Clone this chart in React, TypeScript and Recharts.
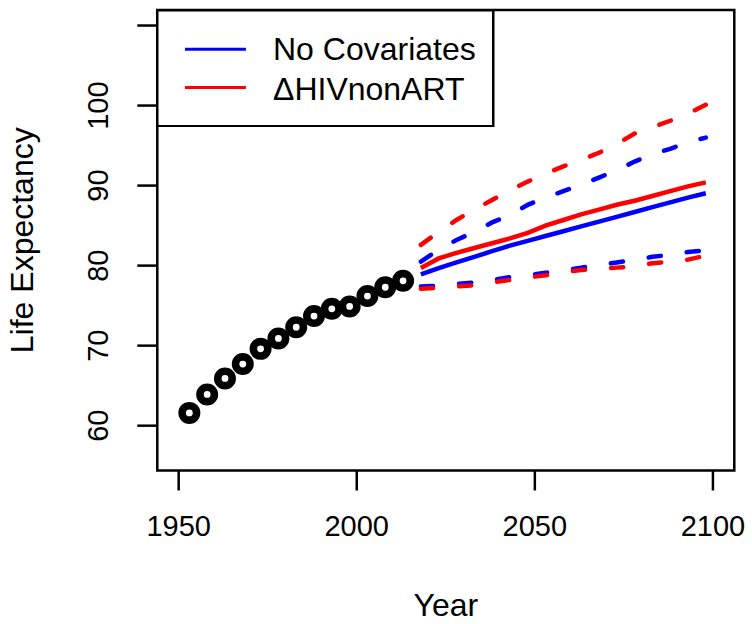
import { ComposedChart, Line, Scatter, XAxis, YAxis, ReferenceArea, Legend } from 'recharts';

// observed life expectancy (5-year periods)
const histYears = [1953, 1958, 1963, 1968, 1973, 1978, 1983, 1988, 1993, 1998, 2003, 2008, 2013];
const histLE = [61.6, 63.9, 65.9, 67.7, 69.6, 70.9, 72.3, 73.7, 74.6, 74.9, 76.2, 77.3, 78.1];

// projections
const projYears = [2018, 2023, 2028, 2033, 2038, 2043, 2048, 2053, 2058, 2063, 2068, 2073, 2078, 2083, 2088, 2093, 2098];
const noCovMedian = [78.9, 79.7, 80.4, 81.1, 81.8, 82.5, 83.1, 83.7, 84.3, 84.9, 85.5, 86.1, 86.7, 87.3, 87.9, 88.5, 89.05];
const noCovUpper = [80.5, 82.0, 83.2, 84.2, 85.4, 86.3, 87.6, 88.5, 89.3, 90.1, 91.0, 91.9, 93.0, 93.9, 94.6, 95.4, 96.0];
const noCovLower = [77.4, 77.5, 77.7, 77.9, 78.2, 78.55, 78.8, 79.1, 79.4, 79.75, 80.05, 80.4, 80.7, 81.1, 81.35, 81.7, 81.9];
const hivMedian = [79.7, 80.9, 81.6, 82.2, 82.8, 83.4, 84.1, 85.0, 85.7, 86.4, 87.0, 87.6, 88.1, 88.7, 89.3, 89.9, 90.4];
const hivUpper = [82.6, 84.2, 85.7, 87.0, 88.2, 89.4, 90.5, 91.5, 92.4, 93.2, 94.1, 95.2, 96.5, 97.3, 98.1, 99.0, 100.1];
const hivLower = [77.1, 77.25, 77.4, 77.55, 77.9, 78.2, 78.5, 78.8, 79.2, 79.45, 79.6, 79.75, 79.9, 80.3, 80.5, 80.75, 81.25];

const xTicks = [1950, 2000, 2050, 2100];
const yTicks = [60, 70, 80, 90, 100, 110];
const yLabelled = [60, 70, 80, 90, 100];

const hist = histYears.map((year, i) => ({ year, le: histLE[i] }));
const proj = projYears.map((year, i) => ({
  year,
  noCovMedian: noCovMedian[i],
  noCovUpper: noCovUpper[i],
  noCovLower: noCovLower[i],
  hivMedian: hivMedian[i],
  hivUpper: hivUpper[i],
  hivLower: hivLower[i],
}));

const FONT = '"Liberation Sans", Arial, Helvetica, sans-serif';
const LW = 4.5;
const DASH = '12.2 26.1';

const XTick = (props: any) => (
  <text x={props.x} y={props.y} dy={45.5} textAnchor="middle" fontSize={29} fill="#000" fontFamily={FONT}>
    {props.payload.value}
  </text>
);

const YTick = (props: any) => {
  if (!yLabelled.includes(props.payload.value)) return <g />;
  const bx = props.x - 28.9;
  return (
    <text x={bx} y={props.y} transform={`rotate(-90, ${bx}, ${props.y})`} textAnchor="middle" fontSize={29} fill="#000" fontFamily={FONT}>
      {props.payload.value}
    </text>
  );
};

const Ring = (props: any) => (
  <circle cx={props.cx} cy={props.cy} r={7.2} fill="none" stroke="#000" strokeWidth={7.6} />
);

const LegendBox = (props: any) => {
  const items = (props.payload || []).filter((p: any) => p.type !== 'none');
  return (
    <svg width={338.5} height={118.5} style={{ display: 'block' }}>
      <rect x={1.25} y={1.25} width={336} height={116} fill="#fff" stroke="#000" strokeWidth={2.5} />
      {items.map((p: any, i: number) => (
        <g key={p.value}>
          <line x1={28.95} x2={89.95} y1={40.25 + i * 38.3} y2={40.25 + i * 38.3} stroke={p.color} strokeWidth={3} />
          <text x={117} y={51.25 + i * 39.3} fontSize={32} fill="#000" fontFamily={FONT}>
            {p.value}
          </text>
        </g>
      ))}
    </svg>
  );
};

export default function App() {
  return (
    <div style={{ position: 'absolute', left: 0, top: 0, width: 752, height: 624, background: '#fff' }}>
      <ComposedChart width={752} height={624} margin={{ top: 10, right: 17.7, bottom: 0, left: 0 }} style={{ fontFamily: FONT }}>
        <XAxis
          type="number"
          dataKey="year"
          domain={[1944, 2106]}
          ticks={xTicks}
          allowDataOverflow
          height={153.5}
          axisLine={false}
          tickLine={{ stroke: '#000', strokeWidth: 2.5 }}
          tickSize={20}
          tickMargin={0}
          tick={<XTick />}
          label={{
            content: (p: any) => (
              <text x={p.viewBox.x + p.viewBox.width / 2} y={p.viewBox.y + 145.5} textAnchor="middle" fontSize={32} fill="#000" fontFamily={FONT}>
                Year
              </text>
            ),
          }}
        />
        <YAxis
          type="number"
          domain={[54.4, 111.94]}
          ticks={yTicks}
          allowDataOverflow
          width={157.3}
          axisLine={false}
          tickLine={{ stroke: '#000', strokeWidth: 2.5 }}
          tickSize={20}
          tickMargin={0}
          tick={<YTick />}
          label={{
            content: (p: any) => {
              const cx = 33.3;
              const cy = p.viewBox.y + p.viewBox.height / 2;
              return (
                <text x={cx} y={cy} transform={`rotate(-90, ${cx}, ${cy})`} textAnchor="middle" fontSize={32} fill="#000" fontFamily={FONT}>
                  Life Expectancy
                </text>
              );
            },
          }}
        />
        <Scatter data={hist} dataKey="le" shape={<Ring />} isAnimationActive={false} legendType="none" />
        <Line data={proj} dataKey="noCovMedian" name="No Covariates" stroke="#0000ff" strokeWidth={LW} dot={false} isAnimationActive={false} />
        <Line data={proj} dataKey="hivMedian" name="ΔHIVnonART" stroke="#ff0000" strokeWidth={LW} dot={false} isAnimationActive={false} />
        <Line data={proj} dataKey="noCovUpper" stroke="#0000ff" strokeWidth={LW} strokeDasharray={DASH} strokeLinecap="round" dot={false} isAnimationActive={false} legendType="none" />
        <Line data={proj} dataKey="noCovLower" stroke="#0000ff" strokeWidth={LW} strokeDasharray={DASH} strokeLinecap="round" dot={false} isAnimationActive={false} legendType="none" />
        <Line data={proj} dataKey="hivUpper" stroke="#ff0000" strokeWidth={LW} strokeDasharray={DASH} strokeLinecap="round" dot={false} isAnimationActive={false} legendType="none" />
        <Line data={proj} dataKey="hivLower" stroke="#ff0000" strokeWidth={LW} strokeDasharray={DASH} strokeLinecap="round" dot={false} isAnimationActive={false} legendType="none" />
        <ReferenceArea x1={1944} x2={2106} y1={54.4} y2={111.94} fill="none" stroke="#000" strokeWidth={2.5} ifOverflow="visible" />
        <Legend
          layout="horizontal"
          verticalAlign="middle"
          align="center"
          content={<LegendBox />}
          wrapperStyle={{ left: 156.05, top: 8.75, width: 338.5, height: 118.5 }}
        />
      </ComposedChart>
    </div>
  );
}
